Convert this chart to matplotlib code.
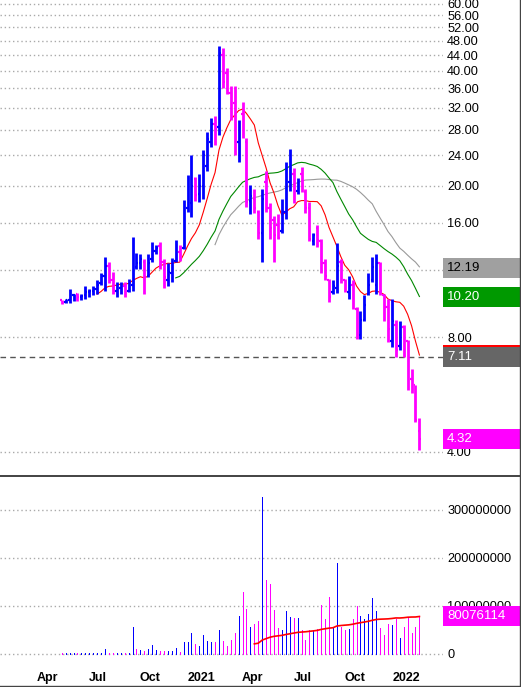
import matplotlib
matplotlib.use('Agg')
import matplotlib.pyplot as plt
from matplotlib.patches import Rectangle
from matplotlib.lines import Line2D
import pandas as pd

plt.rcParams['font.family'] = ['Liberation Sans', 'DejaVu Sans']

# weekly bars
dates = pd.date_range('2020-04-27', periods=92, freq='7D')

opens = [10.0, 9.9, 10.0, 10.3, 10.4, 10.2, 10.3, 10.5, 10.6, 10.7,
         11.1, 11.6, 12.3, 11.3, 10.6, 10.8, 10.9, 10.6, 11.0, 12.2,
         12.5, 12.6, 11.6, 12.8, 13.5, 13.9, 12.6, 11.3, 11.8, 12.7,
         13.4, 13.7, 17.5, 18.0, 20.8, 19.0, 20.0, 22.5, 26.0, 29.0,
         28.5, 44.0, 39.5, 35.0, 33.0, 26.0, 30.8, 26.0, 18.2, 18.5,
         17.0, 15.0, 20.5, 17.5, 16.2, 15.8, 15.2, 17.0, 20.5, 21.5,
         19.4, 21.5, 19.2, 17.5, 14.3, 15.5, 14.3, 12.5, 11.3, 10.5,
         10.8, 12.6, 11.3, 10.5, 11.0, 9.5, 8.1, 8.9, 10.4, 11.3,
         11.0, 12.5, 10.3, 9.6, 7.8, 8.6, 7.6, 8.5, 7.8, 6.2,
         6.0, 4.55]
highs = [10.0, 10.1, 10.7, 10.4, 10.45, 10.4, 10.9, 10.7, 10.9, 11.3,
         11.8, 13.0, 12.6, 11.9, 11.2, 11.2, 11.2, 11.4, 14.7, 13.3,
         13.2, 12.8, 13.2, 14.2, 14.0, 14.2, 12.8, 12.5, 12.9, 14.4,
         14.0, 18.35, 21.3, 24.0, 21.1, 21.5, 24.8, 27.7, 30.1, 30.4,
         46.6, 46.0, 40.6, 36.6, 36.6, 29.8, 33.2, 26.7, 20.1, 19.6,
         17.3, 19.6, 21.8, 18.0, 16.6, 16.8, 18.5, 23.1, 25.0, 22.2,
         21.0, 22.4, 19.6, 18.1, 15.0, 15.8, 14.5, 12.8, 11.4, 11.3,
         14.1, 12.8, 11.4, 11.6, 11.3, 9.6, 9.4, 10.3, 11.8, 13.0,
         13.2, 12.6, 10.4, 10.1, 10.1, 8.9, 8.8, 8.6, 7.85, 6.6,
         6.0, 4.9]
lows = [9.8, 9.85, 9.85, 9.95, 9.95, 10.0, 10.05, 10.2, 10.3, 10.4,
        11.0, 10.6, 11.1, 10.4, 10.2, 10.4, 10.2, 10.5, 10.6, 12.1,
        12.1, 10.4, 11.5, 12.6, 13.2, 12.1, 10.8, 10.9, 11.2, 12.6,
        12.7, 13.6, 17.0, 16.5, 18.2, 18.1, 18.5, 21.8, 25.3, 25.6,
        27.2, 36.0, 34.7, 29.8, 24.0, 23.0, 26.7, 17.6, 16.8, 16.9,
        14.5, 12.6, 17.1, 14.5, 12.6, 14.5, 15.0, 16.3, 19.3, 18.0,
        19.0, 19.2, 16.9, 14.3, 14.0, 13.8, 11.8, 11.3, 9.9, 10.4,
        10.45, 11.1, 10.5, 10.1, 9.5, 7.9, 7.9, 8.8, 10.3, 11.2,
        10.4, 10.3, 8.8, 7.75, 7.55, 7.1, 7.4, 7.1, 5.8, 5.7,
        4.8, 4.04]
closes = [9.85, 10.0, 10.3, 10.35, 10.2, 10.25, 10.5, 10.6, 10.7, 11.0,
          11.6, 12.3, 11.3, 10.6, 10.8, 10.9, 10.5, 11.0, 12.6, 12.5,
          12.8, 11.5, 12.5, 13.5, 13.7, 12.6, 11.5, 11.9, 12.4, 13.3,
          13.0, 17.5, 19.3, 20.0, 18.9, 20.0, 24.0, 26.5, 29.0, 28.2,
          44.5, 37.5, 35.0, 34.5, 27.0, 28.5, 27.0, 18.1, 18.8, 17.5,
          15.0, 18.5, 17.5, 15.5, 14.8, 14.6, 17.0, 21.0, 22.5, 19.5,
          20.5, 19.8, 17.5, 14.5, 14.8, 14.4, 12.5, 11.6, 10.2, 10.9,
          12.3, 11.5, 10.9, 11.2, 9.8, 8.1, 8.9, 9.7, 11.0, 12.2,
          12.5, 10.6, 9.6, 8.4, 8.8, 7.4, 8.6, 7.4, 6.4, 6.05,
          4.85, 4.32]
# volume in millions
volumes = [1.5, 1.5, 2, 1.5, 1.5, 2, 1.5, 2, 3, 2,
           3, 11, 3, 1.5, 3, 1.5, 1.5, 2, 57, 11,
           9, 7, 11, 19.5, 9, 7, 7, 7, 7, 13,
           5, 24, 24, 44, 21.5, 17, 40, 28, 26, 24,
           51, 28, 17, 30, 44, 80, 130, 94, 57, 63,
           69, 328, 155, 146, 92, 55, 51, 90, 78, 76,
           74, 49, 30, 51, 47, 53, 103, 72, 118, 54,
           190, 56, 49, 53, 72, 99, 80, 72, 84, 117,
           90, 55, 40, 63, 61, 72, 34, 57, 77, 44,
           57, 80.076114]

month_ticks = ['2020-04-01', '2020-07-01', '2020-10-01', '2021-01-01',
               '2021-04-01', '2021-07-01', '2021-10-01', '2022-01-01']
month_labels = ['Apr', 'Jul', 'Oct', '2021', 'Apr', 'Jul', 'Oct', '2022']
price_ticks = [4, 8, 12, 16, 20, 24, 28, 32, 36, 40, 44, 48, 52, 56, 60]

BLUE = '#0000FF'
MAG = '#FF00FF'

cs = pd.Series(closes)
ma10 = cs.rolling(10).mean()
ma30 = cs.rolling(30).mean()
ma40 = cs.rolling(40).mean()
vols = pd.Series(volumes) * 1e6
vol_ma = vols.rolling(50).mean()

bar_col = [BLUE if c >= o else MAG for o, c in zip(opens, closes)]
vol_col = [MAG] + [BLUE if closes[i] >= closes[i - 1] else MAG for i in range(1, len(closes))]

W, H = 521, 687
fig = plt.figure(figsize=(W / 100, H / 100), dpi=100)
fig.patch.set_facecolor('white')
ax = fig.add_axes([0, (H - 475) / H, 443 / W, 475 / H])
axv = fig.add_axes([0, (H - 666) / H, 443 / W, (666 - 477) / H])

xl = (pd.Timestamp('2020-01-08'), pd.Timestamp('2022-03-07'))
tick = pd.Timedelta(days=3)

# price panel
ax.set_yscale('log')
ax.set_ylim(3.479, 61.4)
ax.set_xlim(xl)
ax.vlines(dates, lows, highs, colors=bar_col, lw=2, zorder=3)
ax.hlines(opens, dates - tick, dates, colors=bar_col, lw=1.6, zorder=3)
ax.hlines(closes, dates, dates + tick, colors=bar_col, lw=1.6, zorder=3)
ax.plot(dates, ma40, color='#999999', lw=0.8, zorder=2)
ax.plot(dates, ma30, color='#008800', lw=0.8, zorder=2)
ax.plot(dates, ma10, color='#FF0000', lw=0.8, zorder=2)
ax.axhline(7.11, color='#555555', ls=(0, (4, 3)), lw=1, zorder=1)

ax.set_yticks(price_ticks)
# 12.00 sits under the 12.19 tag
ax.set_yticklabels(['' if t == 12 else '%.2f' % t for t in price_ticks])
ax.yaxis.set_minor_locator(matplotlib.ticker.NullLocator())
ax.yaxis.tick_right()
ax.tick_params(axis='y', length=0, pad=3, labelsize=9.2)
ax.set_xticks([])
ax.grid(axis='y', color='#AAAAAA', ls=(0, (1, 2)), lw=1)
for s in ax.spines.values():
    s.set_visible(False)

# volume panel
axv.set_xlim(xl)
axv.set_ylim(-25e6, 368.75e6)
axv.vlines(dates, 0, vols, colors=vol_col, lw=0.72, antialiased=False, zorder=3)
axv.plot(dates, vol_ma, color='#FF0000', lw=1.2, zorder=4)
axv.set_yticks([0, 1e8, 2e8, 3e8])
axv.set_yticklabels(['0', '100000000', '200000000', '300000000'])
axv.yaxis.tick_right()
axv.tick_params(axis='y', length=0, pad=3, labelsize=9.2)
axv.set_xticks(pd.to_datetime(month_ticks))
axv.set_xticklabels(month_labels, fontweight='bold', fontsize=9)
axv.tick_params(axis='x', length=0, pad=4)
axv.grid(axis='y', color='#AAAAAA', ls=(0, (1, 2)), lw=1)
for s in axv.spines.values():
    s.set_visible(False)


def tag(axis, value, text, fc, tc):
    y = axis.transData.transform((0, value))[1]
    fig.add_artist(Rectangle((443 / W, (y - 10) / H), 1 - 443 / W, 20 / H,
                             transform=fig.transFigure, fc=fc, ec='none', zorder=2))
    if text:
        fig.text(447 / W, y / H, text, color=tc, va='center', ha='left',
                 fontsize=9.5, zorder=4)


tag(ax, 12.19, '12.19', '#A0A0A0', 'black')
tag(ax, 10.20, '10.20', '#009900', 'white')
tag(ax, ma10.iloc[-1], '', '#FF0000', 'white')
tag(ax, 7.11, '7.11', '#666666', 'white')
tag(ax, closes[-1], '4.32', MAG, 'white')
tag(axv, vol_ma.iloc[-1], '', '#FF0000', 'white')
tag(axv, vols.iloc[-1], '80076114', MAG, 'white')

# frame lines
fig.add_artist(Line2D([0, 1], [(H - 476) / H] * 2, color='#222222', lw=1.2))
fig.add_artist(Line2D([519.5 / W] * 2, [0, 1], color='#444444', lw=1))
fig.add_artist(Line2D([0, 1], [0.8 / H] * 2, color='#444444', lw=1))

fig.savefig('out.png', dpi=100, facecolor='white')
